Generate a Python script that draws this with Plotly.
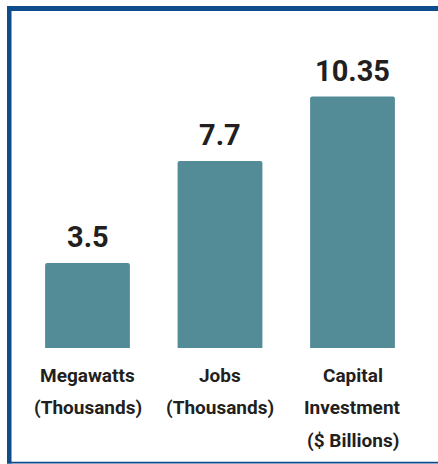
import plotly.graph_objects as go

categories = ["Megawatts", "Jobs", "Capital"]
values = [3.5, 7.7, 10.35]
value_labels = ["3.5", "7.7", "10.35"]
label_lines = [
    ["Megawatts", "(Thousands)"],
    ["Jobs", "(Thousands)"],
    ["Capital", "Investment", "($ Billions)"],
]

W, H = 438, 464
BAR_COLOR = "#538C97"
TEXT_COLOR = "#231F20"
BORDER = "#0E4C8C"
FONT = "Roboto, Arial, sans-serif"

fig = go.Figure()
fig.add_trace(go.Bar(
    x=categories, y=values,
    marker=dict(color=BAR_COLOR, cornerradius=2, line=dict(width=0)),
    width=0.64,
    hoverinfo="skip",
))

annotations = []
for c, v, t in zip(categories, values, value_labels):
    annotations.append(dict(
        x=c, y=v, xref="x", yref="y", text=f"<b>{t}</b>", showarrow=False,
        yanchor="bottom", yshift=7,
        font=dict(family=FONT, size=29, color=TEXT_COLOR),
    ))
for c, lines in zip(categories, label_lines):
    for j, line in enumerate(lines):
        annotations.append(dict(
            x=c, y=0, xref="x", yref="y", text=f"<b>{line}</b>", showarrow=False,
            yanchor="middle", yshift=-(27 + 32.5 * j),
            font=dict(family=FONT, size=19, color=TEXT_COLOR),
        ))

def px_x(p):
    return p / W

def px_y(p):
    return 1 - p / H

shapes = [
    dict(type="rect", xref="paper", yref="paper", x0=px_x(7), x1=1.0,
         y0=px_y(11), y1=px_y(6), fillcolor=BORDER, line=dict(width=0), layer="above"),
    dict(type="rect", xref="paper", yref="paper", x0=px_x(7), x1=px_x(11.5),
         y0=px_y(463.5), y1=px_y(6), fillcolor=BORDER, line=dict(width=0), layer="above"),
    dict(type="rect", xref="paper", yref="paper", x0=px_x(7), x1=1.0,
         y0=px_y(463.5), y1=px_y(461.8), fillcolor=BORDER, line=dict(width=0), layer="above"),
]

fig.update_layout(
    width=W, height=H,
    margin=dict(l=0, r=0, t=0, b=0),
    paper_bgcolor="white", plot_bgcolor="white",
    showlegend=False,
    xaxis=dict(domain=[21.25 / W, 418.75 / W], range=[-0.5, 2.5],
               showticklabels=False, showgrid=False, zeroline=False, showline=False,
               ticks=""),
    yaxis=dict(domain=[px_y(348), px_y(48)], range=[0, 300 / 24.3],
               showticklabels=False, showgrid=False, zeroline=False, showline=False,
               ticks=""),
    annotations=annotations,
    shapes=shapes,
)

fig.write_html("out.html")
